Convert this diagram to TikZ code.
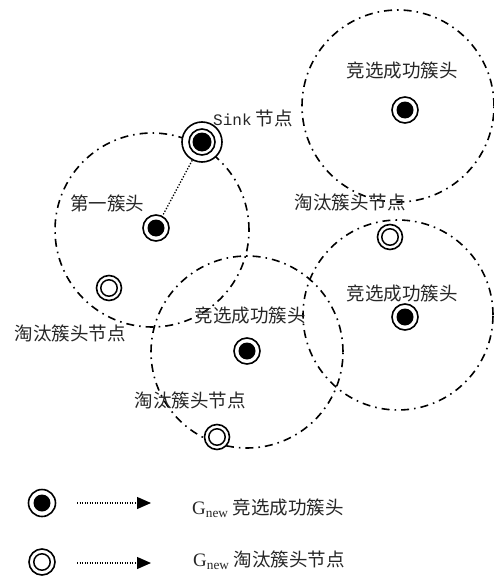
\documentclass[tikz,border=0pt]{standalone}
\usepackage{fontspec}
\setmainfont{Liberation Serif}
\newfontfamily\cjk{Noto Sans CJK SC}
\newfontfamily\monof{Liberation Mono}
\usetikzlibrary{arrows.meta}
\begin{document}
\begin{tikzpicture}[x=1pt,y=-1pt,
  cluster/.style={circle,draw,line width=1.6pt,inner sep=0pt,minimum size=#1,
     dash pattern=on 8pt off 5pt on 1.6pt off 5pt},
  headnode/.style={circle,draw,line width=1.6pt,inner sep=0pt,minimum size=26pt,fill=white,
     path picture={\fill[black] (path picture bounding box.center) circle (8.5pt);}},
  elimnode/.style={circle,draw,line width=1.6pt,inner sep=0pt,minimum size=25pt,fill=white,
     path picture={\draw[black,line width=1.5pt] (path picture bounding box.center) circle (8.2pt);}},
  sinknode/.style={circle,draw,line width=1.6pt,inner sep=0pt,minimum size=40pt,fill=white,
     path picture={\draw[black,line width=1.6pt] (path picture bounding box.center) circle (13pt);
                   \fill[black] (path picture bounding box.center) circle (9.5pt);}},
  lbl/.style={font=\cjk\fontsize{18.5}{20}\selectfont,inner sep=0pt,text=black!85},
  legarrow/.style={line width=1.2pt,dash pattern=on 1.2pt off 1.3pt,
     -{Triangle[length=14pt,width=12pt]}},
]
\useasboundingbox (0,0) rectangle (494,578);

% cluster regions
\node[cluster=192pt] (c1) at (398,106) {};
\node[cluster=194pt] (c2) at (152,230) {};
\node[cluster=192pt] (c3) at (247,352) {};
\node[cluster=190pt] (c4) at (398,315) {};

% nodes
\node[sinknode] (sink) at (202,142) {};
\node[headnode] (h1) at (156,228) {};
\node[elimnode] (e1) at (109,288) {};
\node[headnode] (h2) at (405,110) {};
\node[elimnode] (e2) at (390,237) {};
\node[headnode] (h4) at (405,317) {};
\node[headnode] (h3) at (247,351) {};
\node[elimnode] (e3) at (217,437) {};

\draw[line width=1.3pt,dash pattern=on 1.3pt off 1.7pt] (sink) -- (h1);

% labels
\node[lbl] (tsink) at (253,118) {{\monof\fontsize{16}{18}\selectfont Sink} 节点};
\node[lbl] (t1) at (402,70) {竞选成功簇头};
\node[lbl] (t2) at (107,203) {第一簇头};
\node[lbl] (t3) at (350,202) {淘汰簇头节点};
\node[lbl] (t4) at (402,293) {竞选成功簇头};
\node[lbl] (t5) at (70,333) {淘汰簇头节点};
\node[lbl] (t6) at (250,315) {竞选成功簇头};
\node[lbl] (t7) at (190,400) {淘汰簇头节点};

% legend
\node[headnode,minimum size=27pt] (lh) at (42,503) {};
\node[elimnode,minimum size=26pt] (le) at (42,562) {};
\coordinate (a1s) at (77,503);
\coordinate (a1e) at (151,503);
\coordinate (a2s) at (77,563);
\coordinate (a2e) at (151,563);
\draw[legarrow] (a1s) -- (a1e);
\draw[legarrow] (a2s) -- (a2e);
\node[lbl,anchor=west] (lt1) at (192,508) {{\fontsize{19}{20}\selectfont\rmfamily G\textsubscript{new}} 竞选成功簇头};
\node[lbl,anchor=west] (lt2) at (193,560) {{\fontsize{19}{20}\selectfont\rmfamily G\textsubscript{new}} 淘汰簇头节点};
\end{tikzpicture}
\end{document}
